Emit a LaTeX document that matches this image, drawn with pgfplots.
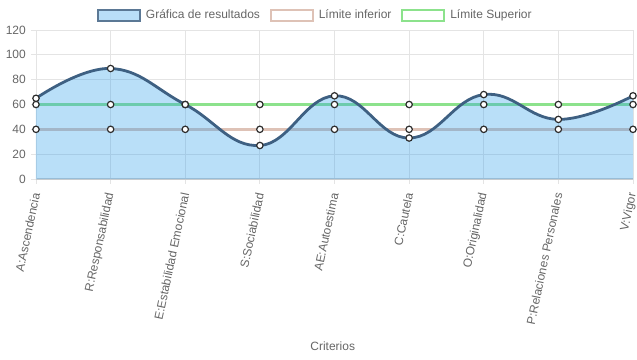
\documentclass[border=0pt]{standalone}
\usepackage{pgfplots}
\pgfplotsset{compat=1.18}
\usepackage{fontspec}
\setmainfont{Liberation Sans}
\definecolor{txt}{RGB}{102,102,102}
\definecolor{gridc}{RGB}{228,228,228}
\definecolor{zeroc}{RGB}{205,205,205}
\definecolor{resline}{RGB}{62,96,130}
\definecolor{resfill}{RGB}{54,162,235}
\definecolor{lowc}{RGB}{222,194,182}
\definecolor{upc}{RGB}{140,226,140}
\definecolor{mk}{RGB}{45,45,45}
\begin{document}
\begin{tikzpicture}
\useasboundingbox (-36pt,-180pt) rectangle (601pt,179pt);
\begin{axis}[
  at={(0pt,0pt)}, anchor=south west,
  scale only axis, width=597pt, height=149pt,
  xmin=0, xmax=8, ymin=0, ymax=120,
  xtick={0,...,8},
  xticklabels={A:Ascendencia,R:Responsabilidad,E:Estabilidad Emocional,S:Sociabilidad,AE:Autoestima,C:Cautela,O:Originalidad,P:Relaciones Personales,V:Vigor},
  ytick={0,20,...,120},
  grid=major, grid style={draw=gridc, line width=0.8pt},
  axis x line=bottom, axis y line=left,
  x axis line style={-, draw=zeroc, line width=1.6pt},
  y axis line style={-, draw=gridc, line width=0.8pt},
  tick align=outside, major tick length=5pt,
  tick style={draw=gridc, line width=0.8pt},
  ticklabel style={font=\fontsize{12}{14}\selectfont, text=txt},
  /pgf/number format/assume math mode=true,
  xticklabel style={rotate=78, anchor=east, inner sep=0pt},
  xticklabel shift=9pt,
  yticklabel style={anchor=east, inner sep=0pt},
  yticklabel shift=5pt,
  xlabel={Criterios},
  xlabel style={font=\fontsize{12}{14}\selectfont, text=txt, at={(axis description cs:0.497,-1.121)}, anchor=center},
  clip=false,
  legend style={at={(axis description cs:0.468,1.1)}, anchor=center, draw=none, fill=none,
    font=\fontsize{12}{14}\selectfont, text=txt, legend columns=3,
    /tikz/every odd column/.append style={column sep=3pt},
    /tikz/every even column/.append style={column sep=8pt}},
]
\addlegendimage{legend image code/.code={\draw[fill=resfill!35!white, draw=resline!85!white, line width=1.8pt] (0pt,-5.5pt) rectangle (42pt,5.5pt);}}
\addlegendentry{Gráfica de resultados}
\addlegendimage{legend image code/.code={\draw[fill=white, draw=lowc, line width=1.8pt] (0pt,-5.5pt) rectangle (42pt,5.5pt);}}
\addlegendentry{Límite inferior}
\addlegendimage{legend image code/.code={\draw[fill=white, draw=upc, line width=1.8pt] (0pt,-5.5pt) rectangle (42pt,5.5pt);}}
\addlegendentry{Límite Superior}

\addplot[forget plot, lowc, line width=3pt, mark=*, mark size=3.2pt, mark options={fill=white, draw=mk, line width=1.2pt}]
 coordinates {(0,40) (1,40) (2,40) (3,40) (4,40) (5,40) (6,40) (7,40) (8,40)};
\addplot[forget plot, upc, line width=3pt, mark=*, mark size=3.2pt, mark options={fill=white, draw=mk, line width=1.2pt}]
 coordinates {(0,60) (1,60) (2,60) (3,60) (4,60) (5,60) (6,60) (7,60) (8,60)};
\addplot[forget plot, draw=none, fill=resfill, fill opacity=0.35, smooth, tension=0.72]
 coordinates {(0,65) (1,89) (2,60) (3,27) (4,67) (5,33) (6,68) (7,48) (8,67)} \closedcycle;
\addplot[forget plot, resline, line width=2.8pt, smooth, tension=0.72, mark=*, mark size=3.2pt, mark options={fill=white, draw=mk, line width=1.2pt}]
 coordinates {(0,65) (1,89) (2,60) (3,27) (4,67) (5,33) (6,68) (7,48) (8,67)};
\end{axis}
\end{tikzpicture}
\end{document}
